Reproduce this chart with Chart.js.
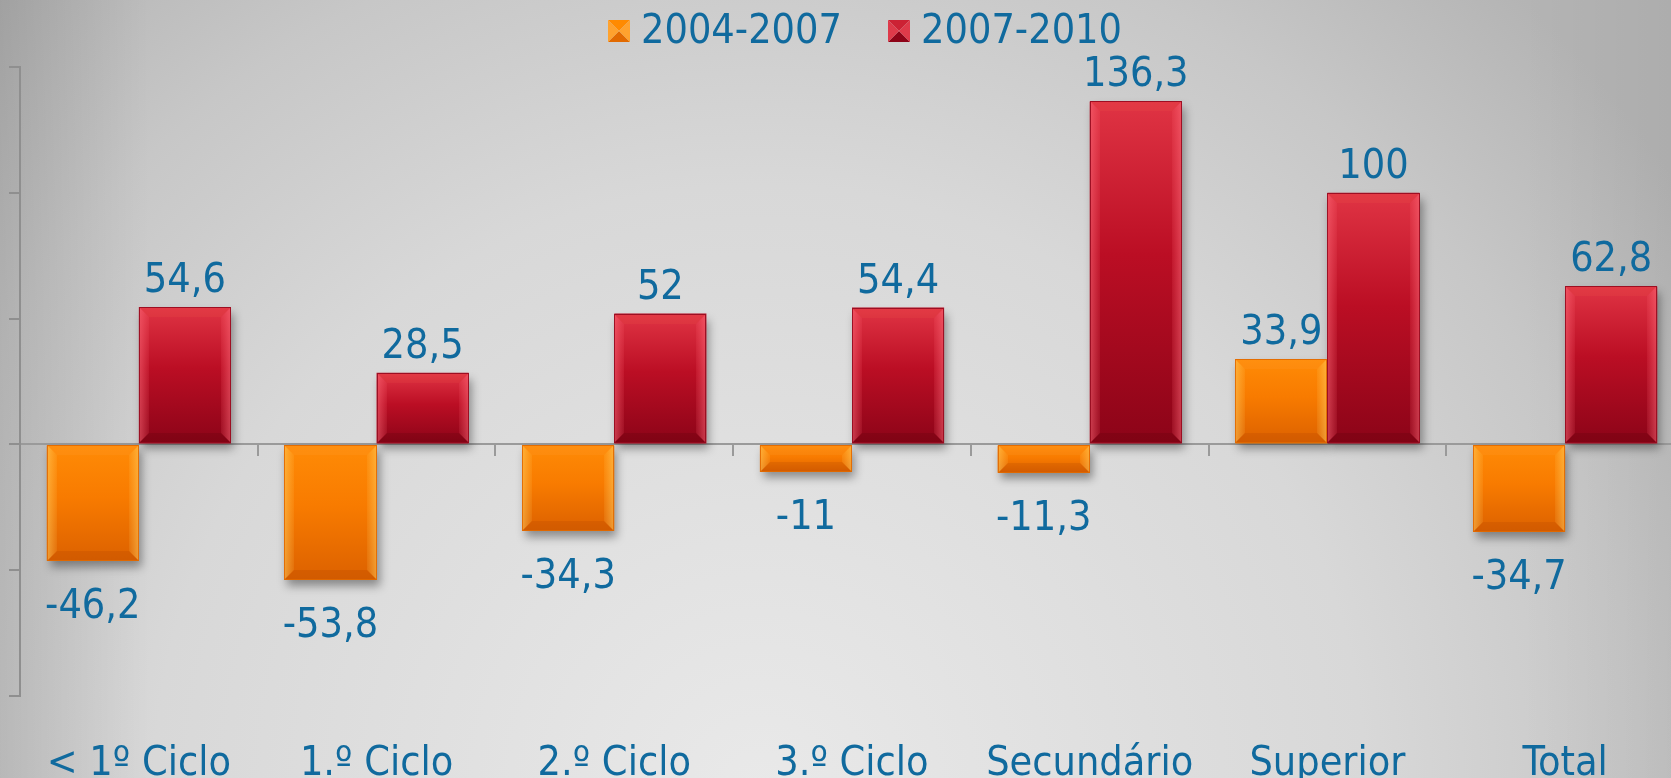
<!DOCTYPE html>
<html><head><meta charset="utf-8">
<script src="https://cdn.jsdelivr.net/npm/chart.js@4.4.1/dist/chart.umd.min.js"></script>
<style>
html,body{margin:0;padding:0;overflow:hidden;width:1671px;height:778px;background:#d0d0d0;}
#wrap{position:relative;width:1700px;height:778px;}
canvas{display:block;}
</style></head><body>
<div id="wrap"><canvas id="c" width="1700" height="778" style="width:1700px;height:778px"></canvas></div>
<script>
const categories = ['< 1º Ciclo', '1.º Ciclo', '2.º Ciclo', '3.º Ciclo', 'Secundário', 'Superior', 'Total'];
const seriesNames = ['2004-2007', '2007-2010'];
const values2004_2007 = [-46.2, -53.8, -34.3, -11, -11.3, 33.9, -34.7];
const values2007_2010 = [54.6, 28.5, 52, 54.4, 136.3, 100, 62.8];
const yTickValues = [-100, -50, 0, 50, 100, 150];

const FONT = "'DejaVu Sans Condensed', 'Noto Sans', sans-serif";
const FSIZE = 41;
const TEXT_COLOR = '#106a9e';

const palettes = [
  { // orange
    face: ['#ff8b06', '#f87b00', '#dc6100'],
    sideOuter: 'rgba(255,210,100,0.55)',
    sideInner: 'rgba(255,200,90,0.12)',
    top: 'rgba(255,255,255,0.04)',
    bottom: 'rgba(150,50,0,0.14)',
    stroke: 'rgba(225,105,0,0.9)',
    mk: {l: '#ffa22e', t: '#ff8a00', b: '#e26a00'}
  },
  { // red
    face: ['#e03444', '#bb0e24', '#8c0418'],
    sideOuter: 'rgba(255,110,125,0.55)',
    sideInner: 'rgba(255,100,115,0.12)',
    top: 'rgba(255,120,80,0.10)',
    bottom: 'rgba(60,0,0,0.14)',
    stroke: 'rgba(150,10,30,0.9)',
    mk: {l: '#de3a4a', t: '#cc2234', b: '#8e0418'}
  }
];

function fmt(v) { return String(v).replace('.', ','); }

function drawBevelBar(ctx, x0, y0, x1, y1, p) {
  const w = x1 - x0, h = y1 - y0;
  if (w <= 0 || h <= 0) return;
  const b = Math.min(10, w / 2, h / 2);
  const g = ctx.createLinearGradient(0, y0, 0, y1);
  g.addColorStop(0, p.face[0]);
  g.addColorStop(0.45, p.face[1]);
  g.addColorStop(1, p.face[2]);
  ctx.fillStyle = g;
  ctx.fillRect(x0, y0, w, h);
  const poly = (pts, fill) => {
    ctx.beginPath();
    ctx.moveTo(pts[0][0], pts[0][1]);
    for (let i = 1; i < pts.length; i++) ctx.lineTo(pts[i][0], pts[i][1]);
    ctx.closePath();
    ctx.fillStyle = fill;
    ctx.fill();
  };
  const gl = ctx.createLinearGradient(x0, 0, x0 + b, 0);
  gl.addColorStop(0, p.sideOuter); gl.addColorStop(1, p.sideInner);
  const gr = ctx.createLinearGradient(x1, 0, x1 - b, 0);
  gr.addColorStop(0, p.sideOuter); gr.addColorStop(1, p.sideInner);
  poly([[x0, y0], [x0 + b, y0 + b], [x0 + b, y1 - b], [x0, y1]], gl);
  poly([[x1, y0], [x1 - b, y0 + b], [x1 - b, y1 - b], [x1, y1]], gr);
  poly([[x0, y0], [x1, y0], [x1 - b, y0 + b], [x0 + b, y0 + b]], p.top);
  poly([[x0, y1], [x1, y1], [x1 - b, y1 - b], [x0 + b, y1 - b]], p.bottom);
  ctx.strokeStyle = p.stroke;
  ctx.lineWidth = 1;
  ctx.strokeRect(x0 + 0.5, y0 + 0.5, w - 1, h - 1);
}

function drawMarker(ctx, x, y, s, p) {
  const cx = x + s / 2, cy = y + s / 2;
  const tri = (a, b2, c) => { ctx.beginPath(); ctx.moveTo(a[0], a[1]); ctx.lineTo(b2[0], b2[1]); ctx.lineTo(c[0], c[1]); ctx.closePath(); ctx.fill(); };
  ctx.fillStyle = p.mk.t; tri([x, y], [x + s, y], [cx, cy]);
  ctx.fillStyle = p.mk.b; tri([x, y + s], [x + s, y + s], [cx, cy]);
  ctx.fillStyle = p.mk.l; tri([x, y], [x, y + s], [cx, cy]);
  tri([x + s, y], [x + s, y + s], [cx, cy]);
}

const bgPlugin = {
  id: 'bg',
  beforeDraw(chart) {
    const ctx = chart.ctx, W = chart.width, H = chart.height;
    ctx.save();
    const g = ctx.createRadialGradient(760, 790, 0, 760, 790, 1100);
    g.addColorStop(0, '#e9e9e9');
    g.addColorStop(0.55, '#d8d8d8');
    g.addColorStop(0.8, '#c7c7c7');
    g.addColorStop(1, '#b4b4b4');
    ctx.fillStyle = g;
    ctx.fillRect(0, 0, W, H);
    const gl = ctx.createLinearGradient(0, 0, 150, 0);
    gl.addColorStop(0, 'rgba(0,0,0,0.11)');
    gl.addColorStop(1, 'rgba(0,0,0,0)');
    ctx.fillStyle = gl; ctx.fillRect(0, 0, 150, H);
    const gr = ctx.createLinearGradient(1671, 0, 1520, 0);
    gr.addColorStop(0, 'rgba(0,0,0,0.04)');
    gr.addColorStop(1, 'rgba(0,0,0,0)');
    ctx.fillStyle = gr; ctx.fillRect(1520, 0, W - 1520, H);
    ctx.restore();
  }
};

const barPlugin = {
  id: 'bevelBars',
  beforeDatasetsDraw(chart) {
    const ctx = chart.ctx;
    ctx.save();
    ctx.shadowColor = 'rgba(0,0,0,0.38)';
    ctx.shadowBlur = 9;
    ctx.shadowOffsetX = 3;
    ctx.shadowOffsetY = 6;
  },
  afterDatasetsDraw(chart) {
    const ctx = chart.ctx;
    ctx.restore();
    ctx.save();
    chart.data.datasets.forEach((ds, di) => {
      const meta = chart.getDatasetMeta(di);
      meta.data.forEach((el) => {
        const {x, y, base, width} = el.getProps(['x', 'y', 'base', 'width'], true);
        const top = Math.min(y, base), bot = Math.max(y, base);
        drawBevelBar(ctx, Math.round(x - width / 2), Math.round(top), Math.round(x + width / 2), Math.round(bot), palettes[di]);
      });
    });
    ctx.font = FSIZE + 'px ' + FONT;
    ctx.fillStyle = TEXT_COLOR;
    ctx.textAlign = 'center';
    ctx.textBaseline = 'alphabetic';
    chart.data.datasets.forEach((ds, di) => {
      const meta = chart.getDatasetMeta(di);
      meta.data.forEach((el, i) => {
        const v = ds.data[i];
        const {x, y, base} = el.getProps(['x', 'y', 'base'], true);
        const top = Math.min(y, base), bot = Math.max(y, base);
        const ty = v >= 0 ? top - 15 : bot + 57;
        ctx.fillText(fmt(v), x, ty);
      });
    });
    ctx.restore();
  }
};

const legendPlugin = {
  id: 'customLegend',
  afterDraw(chart) {
    const ctx = chart.ctx;
    ctx.save();
    ctx.font = FSIZE + 'px ' + FONT;
    ctx.textBaseline = 'alphabetic';
    ctx.textAlign = 'left';
    const box = 22, gap = 11, itemGap = 46, center = 865;
    const names = chart.data.datasets.map(d => d.label);
    const widths = names.map(n => ctx.measureText(n).width);
    let total = 0;
    widths.forEach((w, i) => { total += box + gap + w + (i < widths.length - 1 ? itemGap : 0); });
    let x = center - total / 2;
    names.forEach((n, i) => {
      drawMarker(ctx, x, 20, box, palettes[i]);
      ctx.fillStyle = TEXT_COLOR;
      ctx.fillText(n, x + box + gap, 43);
      x += box + gap + widths[i] + itemGap;
    });
    ctx.restore();
  }
};

new Chart(document.getElementById('c'), {
  type: 'bar',
  data: {
    labels: categories,
    datasets: [
      {label: seriesNames[0], data: values2004_2007, backgroundColor: '#f57a00', borderWidth: 0, xAxisID: 'x'},
      {label: seriesNames[1], data: values2007_2010, backgroundColor: '#b80c22', borderWidth: 0, xAxisID: 'x'}
    ]
  },
  options: {
    responsive: false,
    animation: false,
    devicePixelRatio: 1,
    layout: {padding: {left: 9, top: 67, right: 16, bottom: 0}},
    datasets: {bar: {categoryPercentage: 0.775, barPercentage: 1.0}},
    plugins: {legend: {display: false}, tooltip: {enabled: false}},
    scales: {
      x: {
        type: 'category',
        position: {y: 0},
        offset: true,
        z: 1,
        grid: {display: true, offset: true, drawOnChartArea: false, drawTicks: true, tickLength: 11, color: '#9a9a9a', lineWidth: 2},
        border: {display: true, color: '#9a9a9a', width: 2},
        ticks: {display: false}
      },
      x2: {
        type: 'category',
        position: 'bottom',
        offset: true,
        grid: {display: false},
        border: {display: false},
        ticks: {color: TEXT_COLOR, font: {family: FONT, size: FSIZE}, padding: 36, maxRotation: 0, autoSkip: false},
        afterFit: (s) => { s.height = 82; }
      },
      y: {
        min: yTickValues[0],
        max: yTickValues[yTickValues.length - 1],
        afterBuildTicks: (s) => { s.ticks = yTickValues.map(v => ({value: v})); },
        grid: {display: true, drawOnChartArea: false, drawTicks: true, tickLength: 11, color: '#8f8f8f', lineWidth: 2},
        border: {display: true, color: '#8f8f8f', width: 2},
        ticks: {display: false}
      }
    }
  },
  plugins: [bgPlugin, barPlugin, legendPlugin]
});
</script>
</body></html>
